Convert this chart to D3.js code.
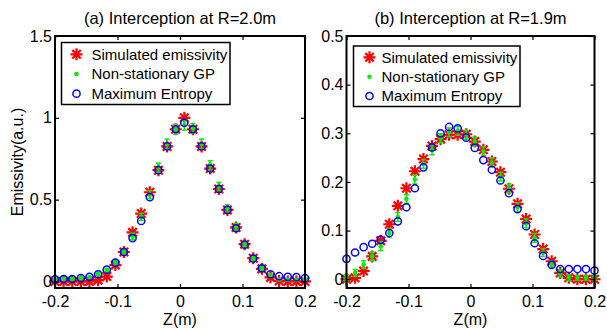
<!DOCTYPE html>
<html>
<head>
<meta charset="utf-8">
<script src="https://cdn.jsdelivr.net/npm/d3@7"></script>
<style>
  body { margin: 0; background: #fff; }
  svg { display: block; }
  text { font-family: "Liberation Sans", Arial, sans-serif; fill: #000; }
</style>
</head>
<body>
<svg id="chart"></svg>
<script>
// z positions of the samples (m)
let zPos = [-0.2000, -0.1862, -0.1724, -0.1586, -0.1448, -0.1310, -0.1172, -0.1034, -0.0897, -0.0759,
            -0.0621, -0.0483, -0.0345, -0.0207, -0.0069, 0.0069, 0.0207, 0.0345, 0.0483, 0.0621,
            0.0759, 0.0897, 0.1034, 0.1172, 0.1310, 0.1448, 0.1586, 0.1724, 0.1862, 0.2000]

// (a) R = 2.0m
let simA = [0, 0, 0, 0, 0, 0.008, 0.03, 0.10, 0.18, 0.30, 0.415, 0.545, 0.68, 0.825, 0.93,
            1.0, 0.93, 0.825, 0.69, 0.565, 0.437, 0.33, 0.228, 0.142, 0.077, 0.025, 0.003, 0, 0, 0]
let gpA = [0.013, 0.015, 0.015, 0.02, 0.026, 0.044, 0.07, 0.115, 0.18, 0.275, 0.395, 0.53, 0.695, 0.84, 0.93,
           0.955, 0.935, 0.84, 0.71, 0.58, 0.447, 0.335, 0.23, 0.142, 0.08, 0.035, 0.012, 0.01, 0.01, 0.012]
let gpErrA = [0.005, 0.005, 0.005, 0.005, 0.005, 0.008, 0.01, 0.012, 0.015, 0.02, 0.022, 0.025, 0.028, 0.03, 0.03,
              0.03, 0.03, 0.03, 0.028, 0.025, 0.022, 0.02, 0.015, 0.012, 0.01, 0.008, 0.006, 0.005, 0.005, 0.005]
let meA = [0.013, 0.015, 0.015, 0.02, 0.028, 0.044, 0.072, 0.115, 0.18, 0.265, 0.37, 0.515, 0.68, 0.825, 0.93,
           0.97, 0.93, 0.825, 0.69, 0.565, 0.437, 0.325, 0.225, 0.14, 0.08, 0.044, 0.032, 0.028, 0.027, 0.02]

// (b) R = 1.9m
let simB = [0, 0.003, 0.017, 0.047, 0.079, 0.113, 0.151, 0.187, 0.222, 0.247, 0.274, 0.288, 0.297, 0.297, 0.298,
            0.283, 0.266, 0.242, 0.22, 0.186, 0.155, 0.124, 0.092, 0.062, 0.037, 0.013, 0.003, 0, 0, 0]
let gpB = [0.003, 0.013, 0.03, 0.047, 0.068, 0.095, 0.128, 0.165, 0.205, 0.237, 0.265, 0.29, 0.302, 0.305, 0.297,
           0.283, 0.263, 0.24, 0.211, 0.187, 0.148, 0.115, 0.085, 0.055, 0.03, 0.012, 0.003, 0.003, 0.003, 0.003]
let gpErrB = [0.006, 0.007, 0.008, 0.009, 0.009, 0.009, 0.009, 0.009, 0.009, 0.009, 0.009, 0.009, 0.009, 0.009, 0.009,
              0.009, 0.009, 0.009, 0.009, 0.009, 0.009, 0.009, 0.009, 0.008, 0.008, 0.007, 0.006, 0.005, 0.005, 0.005]
let meB = [0.042, 0.055, 0.066, 0.073, 0.081, 0.095, 0.119, 0.148, 0.187, 0.23, 0.271, 0.30, 0.313, 0.31, 0.291,
           0.27, 0.245, 0.225, 0.203, 0.177, 0.144, 0.109, 0.074, 0.048, 0.03, 0.021, 0.021, 0.021, 0.021, 0.018]

let xTicks = [-0.2, -0.1, 0, 0.1, 0.2]
let yTicksA = [0, 0.5, 1, 1.5]
let yTicksB = [0, 0.1, 0.2, 0.3, 0.4, 0.5]
let legendNames = ['Simulated emissivity', 'Non-stationary GP', 'Maximum Entropy']

let width = 607
let height = 329

let svg = d3.select('#chart').attr('width', width).attr('height', height)

let starPath = (r) => {
    let d = r * Math.SQRT1_2
    return 'M' + (-r) + ',0H' + r + 'M0,' + (-r) + 'V' + r +
           'M' + (-d) + ',' + (-d) + 'L' + d + ',' + d +
           'M' + (-d) + ',' + d + 'L' + d + ',' + (-d)
}

let drawStar = (g, x, y) => {
    g.append('path').attr('d', starPath(6))
        .attr('transform', 'translate(' + x + ',' + y + ')')
        .attr('stroke', '#ff0000').attr('stroke-width', 2.2).attr('fill', 'none')
}

let drawPanel = (p) => {
    let xScale = d3.scaleLinear().domain([-0.2, 0.2]).range([p.left, p.right])
    let yScale = d3.scaleLinear().domain(p.yDomain).range([p.bottom, p.top])

    let g = svg.append('g')

    // red stars
    let stars = g.append('g')
    p.sim.forEach((v, i) => drawStar(stars, xScale(zPos[i]), yScale(v)))

    // green error bars + dots
    let gp = g.append('g').attr('stroke', '#00ee00').attr('stroke-width', 1.5)
    p.gp.forEach((v, i) => {
        let x = xScale(zPos[i])
        let y1 = yScale(v - p.gpErr[i])
        let y2 = yScale(v + p.gpErr[i])
        gp.append('line').attr('x1', x).attr('x2', x).attr('y1', y1).attr('y2', y2)
        gp.append('line').attr('x1', x - 2.5).attr('x2', x + 2.5).attr('y1', y1).attr('y2', y1)
        gp.append('line').attr('x1', x - 2.5).attr('x2', x + 2.5).attr('y1', y2).attr('y2', y2)
    })
    g.append('g').selectAll('circle')
        .data(p.gp)
        .enter()
        .append('circle')
        .attr('cx', (d, i) => xScale(zPos[i]))
        .attr('cy', (d) => yScale(d))
        .attr('r', 2.3)
        .attr('fill', '#00ee00')

    // blue circles
    g.append('g').selectAll('circle')
        .data(p.me)
        .enter()
        .append('circle')
        .attr('cx', (d, i) => xScale(zPos[i]))
        .attr('cy', (d) => yScale(d))
        .attr('r', 3.6)
        .attr('fill', 'none')
        .attr('stroke', '#0000ff')
        .attr('stroke-width', 1.5)

    // axes, ticks pointing inward on all four sides
    let fmt = (d) => String(d)
    let styleAxis = (sel) => {
        sel.selectAll('.domain').remove()
        sel.selectAll('line').attr('stroke', '#000').attr('stroke-width', 1.2)
        sel.selectAll('text').style('font-size', '16px')
    }
    g.append('g').attr('transform', 'translate(0,' + p.bottom + ')')
        .call(d3.axisBottom(xScale).tickValues(xTicks).tickFormat(fmt).tickSize(-4).tickPadding(8))
        .call(styleAxis)
    g.append('g').attr('transform', 'translate(0,' + p.top + ')')
        .call(d3.axisTop(xScale).tickValues(xTicks).tickFormat('').tickSize(-4))
        .call(styleAxis)
    g.append('g').attr('transform', 'translate(' + p.left + ',0)')
        .call(d3.axisLeft(yScale).tickValues(p.yTicks).tickFormat(fmt).tickSize(-4).tickPadding(3))
        .call(styleAxis)
    g.append('g').attr('transform', 'translate(' + p.right + ',0)')
        .call(d3.axisRight(yScale).tickValues(p.yTicks).tickFormat('').tickSize(-4))
        .call(styleAxis)

    g.append('rect')
        .attr('x', p.left).attr('y', p.top)
        .attr('width', p.right - p.left).attr('height', p.bottom - p.top)
        .attr('fill', 'none').attr('stroke', '#000').attr('stroke-width', 2)

    // title and x label
    g.append('text').attr('x', (p.left + p.right) / 2).attr('y', 23.5)
        .attr('text-anchor', 'middle').style('font-size', '16.5px').text(p.title)
    g.append('text').attr('x', (p.left + p.right) / 2).attr('y', 324.5)
        .attr('text-anchor', 'middle').style('font-size', '16px').text('Z(m)')

    // legend
    let lg = g.append('g')
    lg.append('rect')
        .attr('x', p.legend.x0).attr('y', p.legend.y0)
        .attr('width', p.legend.x1 - p.legend.x0).attr('height', p.legend.y1 - p.legend.y0)
        .attr('fill', '#fff').attr('stroke', '#000').attr('stroke-width', 1.5)
    let rows = p.legend.rows
    drawStar(lg, p.legend.mx, rows[0])
    lg.append('circle').attr('cx', p.legend.mx).attr('cy', rows[1]).attr('r', 2.3).attr('fill', '#00ee00')
    lg.append('circle').attr('cx', p.legend.mx).attr('cy', rows[2]).attr('r', 3.6)
        .attr('fill', 'none').attr('stroke', '#0000ff').attr('stroke-width', 1.5)
    legendNames.forEach((name, i) => {
        lg.append('text').attr('x', p.legend.tx).attr('y', rows[i] + 5.3)
            .style('font-size', '15px').text(name)
    })
}

drawPanel({
    left: 55, right: 305, top: 36, bottom: 288,
    yDomain: [-0.04, 1.5], yTicks: yTicksA,
    sim: simA, gp: gpA, gpErr: gpErrA, me: meA,
    title: '(a) Interception at R=2.0m',
    legend: { x0: 61.5, x1: 230, y0: 42.5, y1: 104.5, mx: 76.5, tx: 91.5, rows: [54.3, 74, 93.7] }
})

drawPanel({
    left: 346.5, right: 594.5, top: 36, bottom: 288,
    yDomain: [-0.018, 0.5], yTicks: yTicksB,
    sim: simB, gp: gpB, gpErr: gpErrB, me: meB,
    title: '(b) Interception at R=1.9m',
    legend: { x0: 353.5, x1: 520, y0: 46, y1: 106.5, mx: 369.5, tx: 381.5, rows: [57.3, 76.7, 96] }
})

// shared y label
svg.append('text')
    .attr('transform', 'translate(23,162) rotate(-90)')
    .attr('text-anchor', 'middle')
    .style('font-size', '16px')
    .text('Emissivity(a.u.)')
</script>
</body>
</html>
